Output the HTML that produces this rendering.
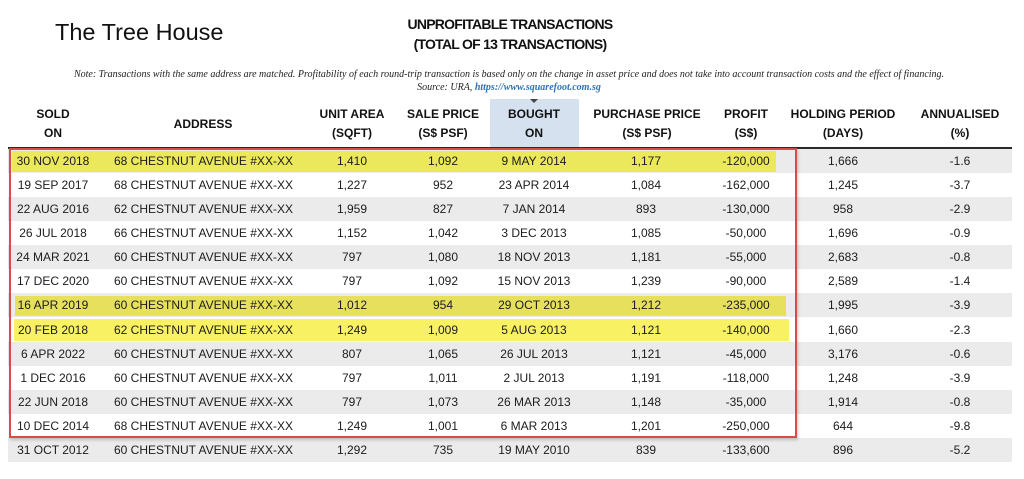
<!DOCTYPE html>
<html><head><meta charset="utf-8">
<style>
*{margin:0;padding:0;box-sizing:border-box}
body{width:1024px;height:479px;background:#fff;position:relative;overflow:hidden;font-family:"Liberation Sans",Arial,sans-serif;color:#1c1c1c}
.a{position:absolute;white-space:nowrap}
.title{left:55px;top:19px;font-size:23.5px;color:#111}
.t1{left:340px;width:340px;text-align:center;font-weight:bold;font-size:14px;letter-spacing:-0.75px;color:#111}
.note{left:0;width:1018px;text-align:center;font-family:"Liberation Serif",serif;font-style:italic;font-size:10px;color:#222}
.src a{color:#2f73b5;font-weight:bold;text-decoration:none}
.h{font-weight:bold;font-size:12px;text-align:center;width:160px;line-height:19px;color:#111}
.row{position:absolute;left:8px;width:1004px;height:24px}
.g{background:#ebebeb}
.c{position:absolute;top:0;height:24px;line-height:25px;font-size:12px;text-align:center;width:140px;white-space:nowrap}
.hl{position:absolute}
</style></head><body>
<div class="a title">The Tree House</div>
<div class="a t1" style="top:16px">UNPROFITABLE TRANSACTIONS</div>
<div class="a t1" style="top:36px">(TOTAL OF 13 TRANSACTIONS)</div>
<div class="a note" style="top:69px">Note: Transactions with the same address are matched. Profitability of each round-trip transaction is based only on the change in asset price and does not take into account transaction costs and the effect of financing.</div>
<div class="a note src" style="top:82px">Source: URA, <a>https://www.squarefoot.com.sg</a></div>

<div class="a" style="left:490px;top:99px;width:89px;height:49px;background:#d5e1ee"></div>
<div class="a" style="left:530px;top:99px;width:0;height:0;border-left:4px solid transparent;border-right:4px solid transparent;border-top:4px solid #444"></div>

<div class="a h" style="left:-27px;top:105px">SOLD<br>ON</div>
<div class="a h" style="left:123px;top:115px">ADDRESS</div>
<div class="a h" style="left:272px;top:105px">UNIT AREA<br>(SQFT)</div>
<div class="a h" style="left:363px;top:105px">SALE PRICE<br>(S$ PSF)</div>
<div class="a h" style="left:454px;top:105px">BOUGHT<br>ON</div>
<div class="a h" style="left:567px;top:105px">PURCHASE PRICE<br>(S$ PSF)</div>
<div class="a h" style="left:666px;top:105px">PROFIT<br>(S$)</div>
<div class="a h" style="left:763px;top:105px">HOLDING PERIOD<br>(DAYS)</div>
<div class="a h" style="left:880px;top:105px">ANNUALISED<br>(%)</div>

<div class="a" style="left:8px;top:147px;width:1004px;height:2px;background:#2a2a2a"></div>

<div id="rows"></div>
<script>
(function(){
var d=[
["30 NOV 2018","68","1,410","1,092","9 MAY 2014","1,177","-120,000","1,666","-1.6"],
["19 SEP 2017","68","1,227","952","23 APR 2014","1,084","-162,000","1,245","-3.7"],
["22 AUG 2016","62","1,959","827","7 JAN 2014","893","-130,000","958","-2.9"],
["26 JUL 2018","66","1,152","1,042","3 DEC 2013","1,085","-50,000","1,696","-0.9"],
["24 MAR 2021","60","797","1,080","18 NOV 2013","1,181","-55,000","2,683","-0.8"],
["17 DEC 2020","60","797","1,092","15 NOV 2013","1,239","-90,000","2,589","-1.4"],
["16 APR 2019","60","1,012","954","29 OCT 2013","1,212","-235,000","1,995","-3.9"],
["20 FEB 2018","62","1,249","1,009","5 AUG 2013","1,121","-140,000","1,660","-2.3"],
["6 APR 2022","60","807","1,065","26 JUL 2013","1,121","-45,000","3,176","-0.6"],
["1 DEC 2016","60","797","1,011","2 JUL 2013","1,191","-118,000","1,248","-3.9"],
["22 JUN 2018","60","797","1,073","26 MAR 2013","1,148","-35,000","1,914","-0.8"],
["10 DEC 2014","68","1,249","1,001","6 MAR 2013","1,201","-250,000","644","-9.8"],
["31 OCT 2012","60","1,292","735","19 MAY 2010","839","-133,600","896","-5.2"]];
var cx=[53,0,352,443,534,646,746,843,960];
var hl={0:[12,151,776,172,"#ece85c"],6:[15,296,786,316,"#e7e05c"],7:[14,319,789,341,"#f8f164"]};
var h="";
for(var i=0;i<d.length;i++){
 var yy=Math.round(149+i*24.08);
 h+='<div class="row'+(i%2==0?' g':'')+'" style="top:'+yy+'px"></div>';
 if(hl[i]){var q=hl[i];h+='<div class="hl" style="left:'+q[0]+'px;top:'+q[1]+'px;width:'+(q[2]-q[0])+'px;height:'+(q[3]-q[1])+'px;background:'+q[4]+'"></div>';}
 h+='<div class="a" style="left:0;top:'+yy+'px;width:1024px;height:24px">';
 for(var j=0;j<9;j++){
  if(j==1){h+='<div class="c" style="left:114px;width:auto;text-align:left">'+d[i][1]+' CHESTNUT AVENUE #XX-XX</div>';}
  else h+='<div class="c" style="left:'+(cx[j]-70)+'px">'+d[i][j]+'</div>';
 }
 h+='</div>';
}
h+='<div class="a" style="left:9px;top:148px;width:788px;height:290px;border:2px solid #d94a4a;box-shadow:1px 2px 3px rgba(0,0,0,0.2)"></div>';
document.getElementById("rows").innerHTML=h;
})();
</script>
</body></html>
